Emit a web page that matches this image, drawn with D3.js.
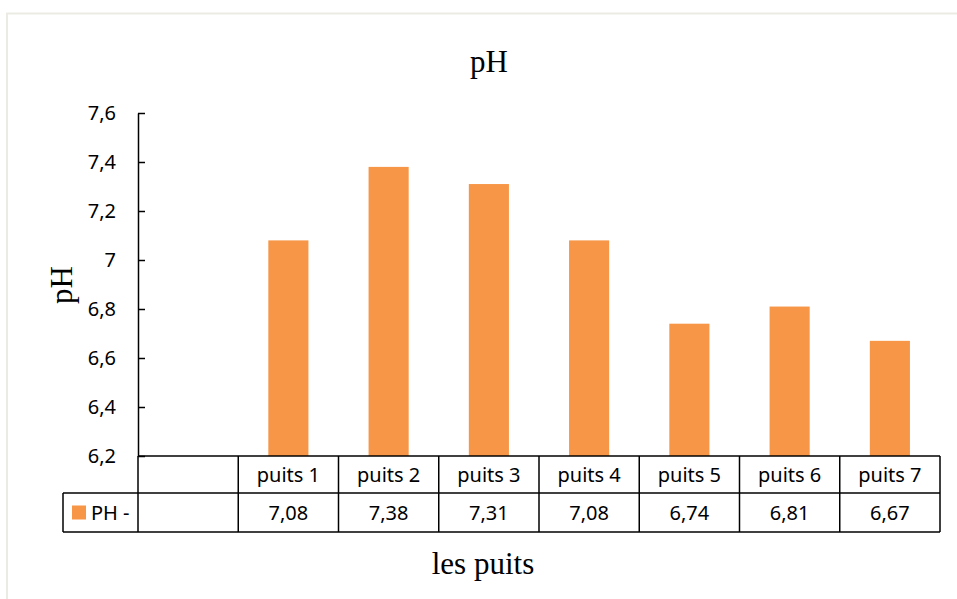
<!DOCTYPE html>
<html>
<head>
<meta charset="utf-8">
<script src="https://cdn.jsdelivr.net/npm/d3@7"></script>
<style>
  body { margin: 0; background: #fff; }
  svg { display: block; }
</style>
</head>
<body>
<svg id="chart" width="957" height="599"></svg>
<script>
// Données du graphique
const categories = ["", "puits 1", "puits 2", "puits 3", "puits 4", "puits 5", "puits 6", "puits 7"];
const phValues = [null, 7.08, 7.38, 7.31, 7.08, 6.74, 6.81, 6.67];
const yTicks = [6.2, 6.4, 6.6, 6.8, 7, 7.2, 7.4, 7.6];
const seriesName = "PH -";

const svg = d3.select("#chart");
const fmt = v => String(v).replace(".", ",");

// Cadre du graphique
svg.append("rect")
    .attr("x", 7)
    .attr("y", 13.5)
    .attr("width", 980)
    .attr("height", 620)
    .attr("fill", "none")
    .attr("stroke", "#ecebe3")
    .attr("stroke-width", 2);

const plotLeft = 138, plotRight = 940, plotTop = 113, plotBottom = 456;
const rowH1 = 37, rowH2 = 39;

const x = d3.scaleBand()
    .domain(categories)
    .range([plotLeft, plotRight])
    .paddingInner(0.6)
    .paddingOuter(0.3);

const y = d3.scaleLinear()
    .domain([6.2, 7.6])
    .range([plotBottom, plotTop]);

// Barres
svg.append("g")
    .selectAll("rect")
    .data(categories.map((c, i) => ({ c: c, v: phValues[i] })).filter(d => d.v !== null))
    .enter()
    .append("rect")
    .attr("x", d => x(d.c))
    .attr("y", d => y(d.v))
    .attr("width", x.bandwidth())
    .attr("height", d => y(6.2) - y(d.v))
    .attr("fill", "#f79646");

// Axe Y
const yAxis = svg.append("g")
    .attr("transform", `translate(${plotLeft},0)`)
    .call(d3.axisRight(y).tickValues(yTicks).tickSize(7).tickSizeOuter(0).tickFormat(""));
yAxis.select(".domain").attr("stroke", "#000").attr("stroke-width", 1.5);
yAxis.selectAll(".tick line").attr("stroke", "#000").attr("stroke-width", 1.5);

svg.append("g")
    .selectAll("text")
    .data(yTicks)
    .enter()
    .append("text")
    .attr("x", 116)
    .attr("y", d => y(d))
    .attr("dy", "0.35em")
    .attr("text-anchor", "end")
    .style("font-family", "'Noto Sans', sans-serif")
    .style("font-size", "20px")
    .attr("fill", "#000")
    .text(fmt);

// Tableau de données
const step = x.step();
const colX = i => plotLeft + i * step;
const tbl = svg.append("g")
    .attr("stroke", "#000")
    .attr("stroke-width", 1.5)
    .attr("fill", "none");

// lignes horizontales
tbl.append("line").attr("x1", plotLeft).attr("x2", plotRight).attr("y1", plotBottom).attr("y2", plotBottom);
tbl.append("line").attr("x1", 63).attr("x2", plotRight).attr("y1", plotBottom + rowH1).attr("y2", plotBottom + rowH1);
tbl.append("line").attr("x1", 63).attr("x2", plotRight).attr("y1", plotBottom + rowH1 + rowH2).attr("y2", plotBottom + rowH1 + rowH2);
// lignes verticales
tbl.append("line").attr("x1", 63).attr("x2", 63).attr("y1", plotBottom + rowH1).attr("y2", plotBottom + rowH1 + rowH2);
d3.range(categories.length + 1).forEach(i => {
    tbl.append("line")
        .attr("x1", colX(i)).attr("x2", colX(i))
        .attr("y1", plotBottom).attr("y2", plotBottom + rowH1 + rowH2);
});

const tableText = svg.append("g")
    .style("font-family", "'Noto Sans', sans-serif")
    .style("font-size", "20px")
    .attr("text-anchor", "middle")
    .attr("fill", "#000");

categories.forEach((c, i) => {
    tableText.append("text")
        .attr("x", x(c) + x.bandwidth() / 2)
        .attr("y", plotBottom + rowH1 / 2)
        .attr("dy", "0.35em")
        .text(c);
    if (phValues[i] !== null) {
        tableText.append("text")
            .attr("x", x(c) + x.bandwidth() / 2)
            .attr("y", plotBottom + rowH1 + rowH2 / 2)
            .attr("dy", "0.35em")
            .text(fmt(phValues[i]));
    }
});

// Légende dans le tableau
svg.append("rect")
    .attr("x", 72)
    .attr("y", plotBottom + rowH1 + rowH2 / 2 - 7)
    .attr("width", 14)
    .attr("height", 14)
    .attr("fill", "#f79646");
svg.append("text")
    .attr("x", 91)
    .attr("y", plotBottom + rowH1 + rowH2 / 2)
    .attr("dy", "0.35em")
    .style("font-family", "'Noto Sans', sans-serif")
    .style("font-size", "20px")
    .attr("fill", "#000")
    .text(seriesName);

// Titres
svg.append("text")
    .attr("x", 489)
    .attr("y", 72)
    .attr("text-anchor", "middle")
    .style("font-family", "'Liberation Serif', serif")
    .style("font-size", "31px")
    .text("pH");

svg.append("text")
    .attr("transform", "rotate(-90)")
    .attr("x", -285)
    .attr("y", 72)
    .attr("text-anchor", "middle")
    .style("font-family", "'Liberation Serif', serif")
    .style("font-size", "31px")
    .text("pH");

svg.append("text")
    .attr("x", 483)
    .attr("y", 574)
    .attr("text-anchor", "middle")
    .style("font-family", "'Liberation Serif', serif")
    .style("font-size", "31px")
    .text("les puits");
</script>
</body>
</html>
